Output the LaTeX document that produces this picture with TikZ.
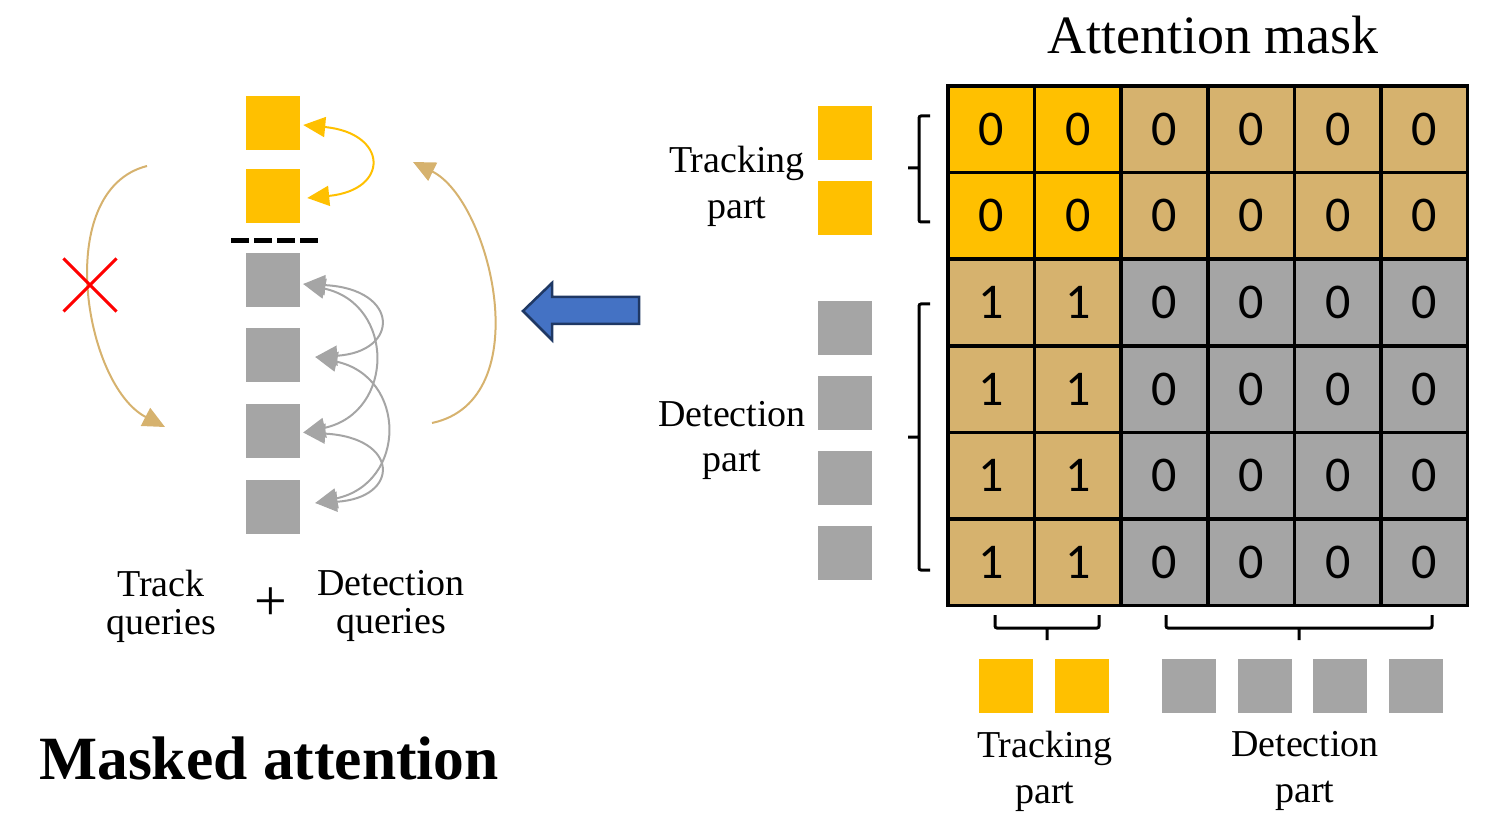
\documentclass[tikz,border=0pt]{standalone}
\usepackage{fontspec}
\setmainfont{Liberation Serif}
\newfontfamily\cellfont{Carlito}
\usetikzlibrary{arrows.meta,shapes.misc}

\definecolor{trkyellow}{HTML}{FFC000}
\definecolor{masktan}{HTML}{D6B26E}
\definecolor{detgray}{HTML}{A5A5A5}
\definecolor{arrowblue}{HTML}{4472C4}
\definecolor{arrowedge}{HTML}{1F3864}

\begin{document}
\begin{tikzpicture}[
  x=1pt, y=-1pt,
  >={Triangle[length=22pt,width=20pt]},
  qbox/.style={rectangle, minimum size=54pt, inner sep=0pt},
  trk/.style={qbox, fill=trkyellow},
  det/.style={qbox, fill=detgray},
  cell/.style={rectangle, draw, line width=3.5pt, minimum size=86.6pt, inner sep=0pt, font=\cellfont\fontsize{50}{50}\selectfont},
  lbl/.style={align=center, inner sep=0pt, font=\fontsize{38}{46}\selectfont},
  bracket/.style={line width=3pt, rounded corners=2pt},
  selfatt/.style={<->, line width=2pt},
  crossatt/.style={->, masktan, line width=2pt}
]
\useasboundingbox (0,0) rectangle (1500,826);

% queries on the left
\node[trk] (tq1) at (273,123) {};
\node[trk, below of=tq1, node distance=73pt] (tq2) {};
\node[det] (dq1) at (273,280) {};
\node[det, below of=dq1, node distance=75.5pt] (dq2) {};
\node[det, below of=dq2, node distance=75.5pt] (dq3) {};
\node[det, below of=dq3, node distance=75.5pt] (dq4) {};
\draw[line width=5pt, dash pattern=on 17.5pt off 5.5pt] (231,241) -- (318,241);

\coordinate (a1) at ([xshift=3pt,yshift=-4pt]dq1.east);
\coordinate (a2) at ([xshift=15pt,yshift=-1.5pt]dq2.east);
\coordinate (a3) at ([xshift=3pt,yshift=-1.5pt]dq3.east);
\coordinate (a4) at ([xshift=15pt,yshift=3.5pt]dq4.east);

\draw[selfatt, trkyellow] ([xshift=3pt,yshift=-2pt]tq1.east) .. controls +(85,8) and +(83,-8) .. ([xshift=7pt,yshift=-2pt]tq2.east);
\draw[selfatt, detgray] (a1) .. controls +(97,5) and +(85,-5) .. (a2);
\draw[selfatt, detgray] (a1) .. controls +(92,20) and +(92,-20) .. (a3);
\draw[selfatt, detgray] (a2) .. controls +(92,20) and +(92,-20) .. (a4);
\draw[selfatt, detgray] (a3) .. controls +(97,5) and +(85,-5) .. (a4);

\coordinate (lstart) at (147,166);
\coordinate (lend) at (165,427);
\coordinate (rstart) at (432,423);
\coordinate (rend) at (413,162);
\draw[crossatt] (lstart) .. controls (52,190) and (84,385) .. (lend);
\draw[crossatt] (rstart) .. controls (540,400) and (490,200) .. (rend);
\node[cross out, draw=red, line width=3pt, minimum size=50pt, inner sep=0pt] (noatt) at (90,285) {};

\node[lbl, font=\fontsize{38}{38}\selectfont] (trackq) at (161,606) {Track\\queries};
\node[font=\fontsize{58}{58}\selectfont, inner sep=0pt] (plus) at (271,604) {+};
\node[lbl, font=\fontsize{38}{38}\selectfont] (detq) at (391,606) {Detection\\queries};
\node[font=\bfseries\fontsize{61.5}{70}\selectfont, inner sep=0pt] (caption) at (269,758) {Masked attention};

% big arrow
\draw[fill=arrowblue, draw=arrowedge, line width=2.5pt] (523,311) -- (552,283) -- (552,297) -- (639,297) -- (639,324) -- (552,324) -- (552,340) -- cycle;

% row queries
\node[trk] (rt1) at (845,133) {};
\node[trk, below of=rt1, node distance=75pt] (rt2) {};
\node[det] (rd1) at (845,328) {};
\node[det, below of=rd1, node distance=75pt] (rd2) {};
\node[det, below of=rd2, node distance=75pt] (rd3) {};
\node[det, below of=rd3, node distance=75pt] (rd4) {};
\node[lbl] (trkrow) at (737,186) {Tracking\\part};
\node[lbl, font=\fontsize{38}{45}\selectfont] (detrow) at (732,440) {Detection\\part};

% mask
\node[font=\fontsize{54}{60}\selectfont, inner sep=0pt] (title) at (1213,35) {Attention mask};
\foreach \r/\fa/\fb/\v in {1/trkyellow/masktan/0, 2/trkyellow/masktan/0, 3/masktan/detgray/1, 4/masktan/detgray/1, 5/masktan/detgray/1, 6/masktan/detgray/1}{
  \foreach \c in {1,2}
    \node[cell, fill=\fa] (m\r\c) at ({948+86.6*(\c-0.5)},{86+86.6*(\r-0.5)}) {\v};
  \foreach \c in {3,...,6}
    \node[cell, fill=\fb] (m\r\c) at ({948+86.6*(\c-0.5)},{86+86.6*(\r-0.5)}) {0};
}

\draw[bracket] (930,116) -- (919,116) -- (919,222) -- (930,222) (919,168) -- (908,168);
\draw[bracket] (930,304) -- (919,304) -- (919,570) -- (930,570) (919,437) -- (908,437);
\draw[bracket] (995,615) -- (995,628) -- (1099,628) -- (1099,615) (1047,628) -- (1047,640);
\draw[bracket] (1166,615) -- (1166,628) -- (1432,628) -- (1432,615) (1299,628) -- (1299,640);

% column queries
\node[trk] (ct1) at (1006,686) {};
\node[trk, right of=ct1, node distance=75.5pt] (ct2) {};
\node[det] (cd1) at (1189,686) {};
\node[det, right of=cd1, node distance=75.5pt] (cd2) {};
\node[det, right of=cd2, node distance=75.5pt] (cd3) {};
\node[det, right of=cd3, node distance=75.5pt] (cd4) {};
\node[lbl] (trkcol) at (1045,771) {Tracking\\part};
\node[lbl] (detcol) at (1305,771) {Detection\\part};
\end{tikzpicture}
\end{document}
